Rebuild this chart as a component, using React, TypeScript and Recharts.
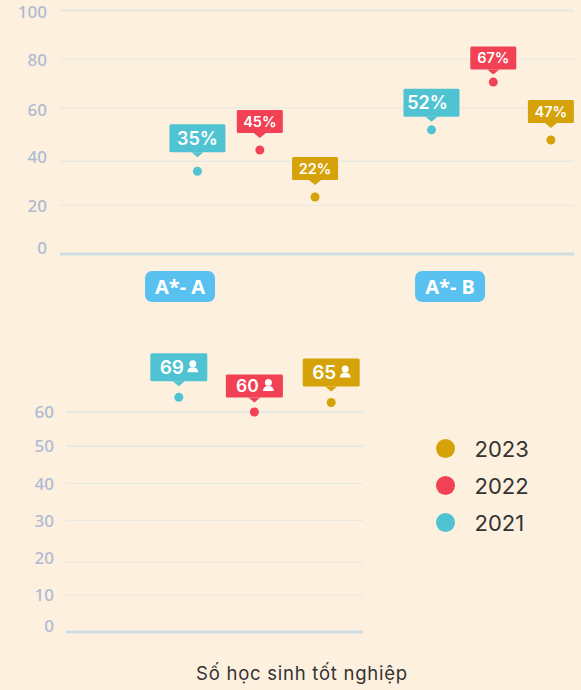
import { ScatterChart, Scatter, XAxis, YAxis, ReferenceLine } from 'recharts';

const years = ['2023', '2022', '2021'];
const yearColors: Record<string, string> = { '2023': '#d6a20a', '2022': '#f24054', '2021': '#50c3d2' };

// top chart: percent, dots sit a bit off their printed labels in the original
const groupTicks = [2, 6.5];
const groupLabels = ['A*- A', 'A*- B'];
const pctSlots2021 = [2.29, 6.19];
const pctSlots2022 = [3.33, 7.22];
const pctSlots2023 = [4.25, 8.18];
const pctValues2021 = [34, 51];
const pctValues2022 = [42.7, 70.6];
const pctValues2023 = [23.4, 46.8];
const pctLabels2021 = ['35%', '52%'];
const pctLabels2022 = ['45%', '67%'];
const pctLabels2023 = ['22%', '47%'];
const pctTicks = [0, 20, 38, 60, 80, 100];
const pctTickLabels = ['0', '20', '40', '60', '80', '100'];
const pctTickShift = [-6, 0.5, -4.5, 2, 0.5, 1];
const pctLineWidths = [0, 1, 1.3, 1, 1, 2];

// bottom chart: students
const countSlots = [1.88, 3.14, 4.42];
const countValues = [64, 60, 62.6];
const countLabels = ['69', '60', '65'];
const countYears = ['2021', '2022', '2023'];
const countTicks = [0, 10, 19, 30.4, 40.5, 50.7, 60];
const countTickLabels = ['0', '10', '20', '30', '40', '50', '60'];
const countTickShift = [-6, 0, -4.5, 0, 0, 0, 0];
const countLineWidths = [0, 1, 1, 1, 1, 2, 2];

const title = 'Số học sinh tốt nghiệp';

const gapByLabel: Record<string, number> = {
  '35%': 19, '45%': 17, '22%': 17, '52%': 13, '67%': 12.5, '47%': 17,
  '69': 16, '60': 14.5, '65': 16,
};
const bigLabels = ['35%', '52%', '69', '65'];

const gridColor = '#e6e8e2';
const axisColor = '#cfdde2';
const tickColor = '#aebbd3';
const bodyFont = '"Noto Sans", sans-serif';
const labelFont = 'Inter, "Open Sans", sans-serif';

function zip(slots: number[], values: number[], labels: string[]) {
  return slots.map((slot, i) => ({ slot, value: values[i], label: labels[i] }));
}

function PersonIcon({ x, y }: { x: number; y: number }) {
  return (
    <g fill="#fff">
      <circle cx={x} cy={y - 2.5} r={3.5} />
      <path d={`M${x - 5.5} ${y + 6} Q${x - 5} ${y + 1} ${x} ${y + 1} Q${x + 5} ${y + 1} ${x + 5.5} ${y + 6} Z`} />
    </g>
  );
}

function Callout(props: any) {
  const { cx, cy, payload, fill } = props;
  const label: string = payload.label;
  const big = bigLabels.includes(label);
  const isCount = !label.endsWith('%');
  const w = isCount ? 57 : big ? 56 : 46;
  const h = big ? 28 : 23;
  const bottom = cy - gapByLabel[label];
  const top = bottom - h;
  const textX = isCount ? cx - 7 : label === '52%' ? cx - 4 : cx;
  const fontSize = isCount ? (big ? 19 : 17.5) : big ? 18 : 14.5;
  return (
    <g>
      <circle cx={cx} cy={cy} r={4.5} fill={fill} />
      <rect x={cx - w / 2} y={top} width={w} height={h} rx={1.5} fill={fill} />
      <path d={`M${cx - 6} ${bottom} L${cx} ${bottom + 5} L${cx + 6} ${bottom} Z`} fill={fill} />
      <text
        x={textX}
        y={top + h / 2}
        dy="0.36em"
        textAnchor="middle"
        fill="#fff"
        fontFamily={labelFont}
        fontWeight={600}
        fontSize={fontSize}
      >
        {label}
      </text>
      {isCount && <PersonIcon x={cx + 14} y={top + h / 2 - 1} />}
    </g>
  );
}

function makeYTick(ticks: number[], labels: string[], shift: number[]) {
  return function YTick(props: any) {
    const i = ticks.indexOf(props.payload.value);
    return (
      <text
        x={props.x}
        y={props.y + shift[i]}
        dy="0.36em"
        textAnchor="end"
        fill={tickColor}
        fontFamily={bodyFont}
        fontWeight={500}
        fontSize={17}
      >
        {labels[i]}
      </text>
    );
  };
}

function GroupTick(props: any) {
  const { x, y, payload } = props;
  const label = groupLabels[groupTicks.indexOf(payload.value)];
  return (
    <g>
      <rect x={x - 35} y={y + 11} width={70} height={31} rx={7} fill="#59c1f0" />
      <text
        x={x}
        y={y + 27}
        dy="0.36em"
        textAnchor="middle"
        fill="#fff"
        fontFamily={bodyFont}
        fontWeight={700}
        fontSize={20}
      >
        {label}
      </text>
    </g>
  );
}

const axisLine = { stroke: axisColor, strokeWidth: 3 };

function PercentChart() {
  return (
    <ScatterChart width={581} height={310} margin={{ top: 10.5, right: 7, bottom: 0, left: 0 }} style={{ position: 'absolute', left: 0, top: 0 }}>
      <XAxis
        type="number"
        dataKey="slot"
        domain={[0, 8.565]}
        ticks={groupTicks}
        interval={0}
        height={56}
        axisLine={axisLine}
        tickLine={false}
        tickMargin={0}
        tick={<GroupTick />}
      />
      <YAxis
        type="number"
        dataKey="value"
        domain={[0, 100]}
        ticks={pctTicks}
        interval={0}
        width={60}
        axisLine={false}
        tickLine={false}
        tickMargin={7}
        tick={makeYTick(pctTicks, pctTickLabels, pctTickShift)}
      />
      {pctTicks.map((t, i) =>
        pctLineWidths[i] > 0 ? <ReferenceLine key={t} y={t} stroke={gridColor} strokeWidth={pctLineWidths[i]} /> : null
      )}
      <Scatter name="2021" data={zip(pctSlots2021, pctValues2021, pctLabels2021)} fill={yearColors['2021']} shape={Callout} isAnimationActive={false} />
      <Scatter name="2022" data={zip(pctSlots2022, pctValues2022, pctLabels2022)} fill={yearColors['2022']} shape={Callout} isAnimationActive={false} />
      <Scatter name="2023" data={zip(pctSlots2023, pctValues2023, pctLabels2023)} fill={yearColors['2023']} shape={Callout} isAnimationActive={false} />
    </ScatterChart>
  );
}

function CountChart() {
  return (
    <ScatterChart width={581} height={300} margin={{ top: 53.67, right: 218, bottom: 0, left: 0 }} style={{ position: 'absolute', left: 0, top: 340 }}>
      <XAxis type="number" dataKey="slot" domain={[0, 4.95]} height={8} axisLine={axisLine} tickLine={false} tick={false} />
      <YAxis
        type="number"
        dataKey="value"
        domain={[0, 65]}
        ticks={countTicks}
        interval={0}
        width={66}
        axisLine={false}
        tickLine={false}
        tickMargin={6}
        tick={makeYTick(countTicks, countTickLabels, countTickShift)}
      />
      {countTicks.map((t, i) =>
        countLineWidths[i] > 0 ? <ReferenceLine key={t} y={t} stroke={gridColor} strokeWidth={countLineWidths[i]} /> : null
      )}
      {countYears.map((year, i) => (
        <Scatter
          key={year}
          name={year}
          data={[{ slot: countSlots[i], value: countValues[i], label: countLabels[i] }]}
          fill={yearColors[year]}
          shape={Callout}
          isAnimationActive={false}
        />
      ))}
    </ScatterChart>
  );
}

export default function App() {
  return (
    <div style={{ position: 'fixed', left: 0, top: 0, width: 581, height: 690, background: '#fdf0de', overflow: 'hidden' }}>
      <PercentChart />
      <CountChart />
      {years.map((year, i) => (
        <div key={year} style={{ position: 'absolute', left: 436, top: 434.5 + i * 37.2, display: 'flex', alignItems: 'center', height: 28 }}>
          <span style={{ width: 19, height: 19, borderRadius: '50%', background: yearColors[year], marginRight: 19.5 }} />
          <span style={{ fontFamily: labelFont, fontSize: 22, color: '#333' }}>{year}</span>
        </div>
      ))}
      <div style={{ position: 'absolute', left: 0, top: 662, width: 604, textAlign: 'center', fontFamily: labelFont, fontSize: 18.5, letterSpacing: 0.75, color: '#333' }}>
        {title}
      </div>
    </div>
  );
}
